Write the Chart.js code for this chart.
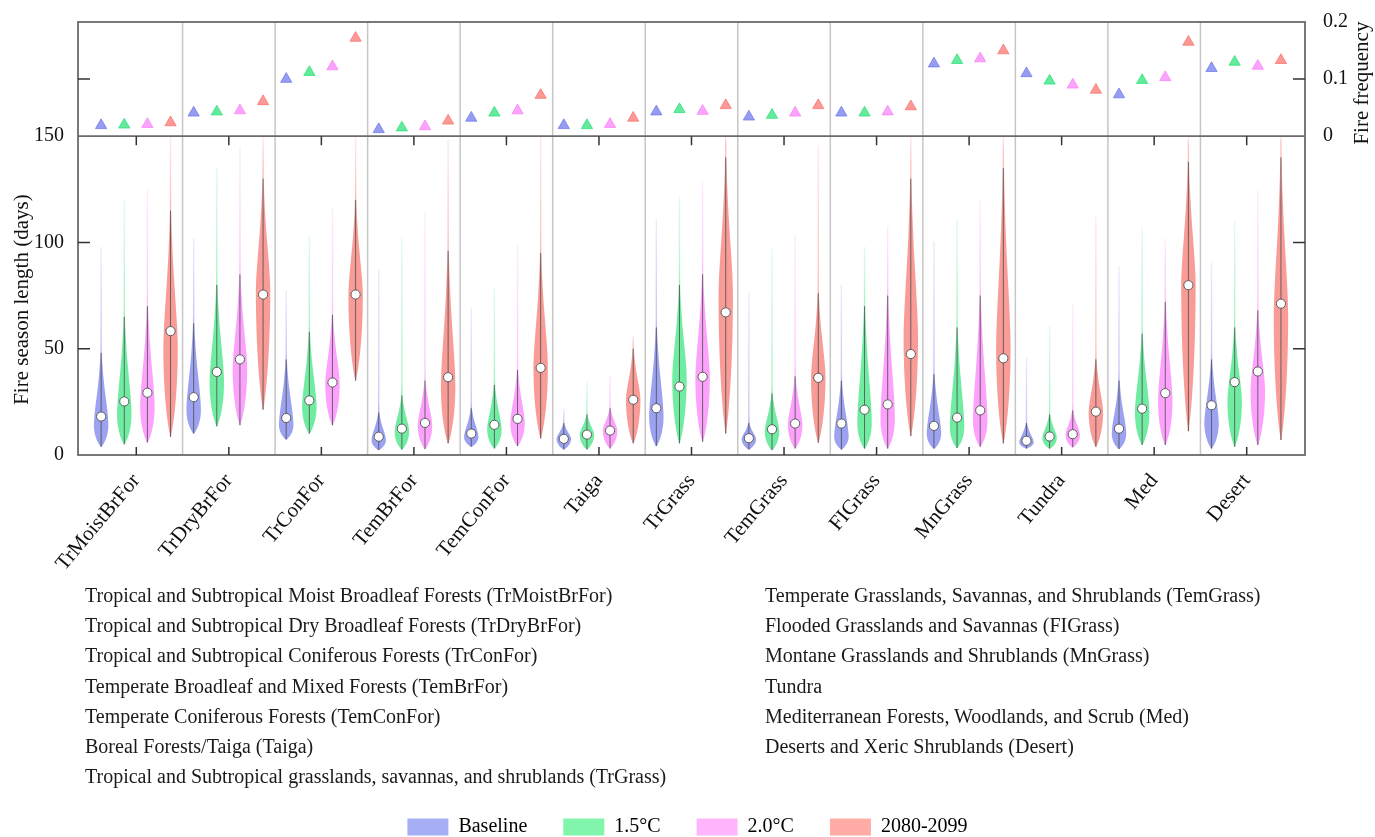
<!DOCTYPE html>
<html>
<head>
<meta charset="utf-8">
<title>Fire season length and fire frequency by biome</title>
<script src="https://cdn.jsdelivr.net/npm/chart.js@4.4.1/dist/chart.umd.min.js"></script>
<style>
  body { margin: 0; background: #fff; }
  #wrap { position: relative; width: 1375px; height: 837px; }
  .nota { position: absolute; font: 20px "Liberation Serif", "Times New Roman", serif; color: #1a1a1a; white-space: nowrap; line-height: 24px; }
</style>
</head>
<body>
<div id="wrap"><canvas id="graficoFuego" width="1375" height="837"></canvas></div>
<script>
const biomas = ['TrMoistBrFor', 'TrDryBrFor', 'TrConFor', 'TemBrFor', 'TemConFor', 'Taiga', 'TrGrass',
                'TemGrass', 'FIGrass', 'MnGrass', 'Tundra', 'Med', 'Desert'];
const escenarios = ['Baseline', '1.5°C', '2.0°C', '2080-2099'];

// Fire frequency (panel de arriba)
const frecBaseline = [0.019, 0.041, 0.100, 0.012, 0.032, 0.019, 0.043, 0.034, 0.041, 0.127, 0.110, 0.073, 0.119];
const frec15 = [0.020, 0.043, 0.112, 0.015, 0.041, 0.019, 0.047, 0.037, 0.041, 0.133, 0.097, 0.098, 0.130];
const frec20 = [0.021, 0.045, 0.122, 0.017, 0.045, 0.021, 0.044, 0.041, 0.043, 0.136, 0.090, 0.103, 0.123];
const frec2080 = [0.024, 0.061, 0.172, 0.027, 0.072, 0.032, 0.054, 0.054, 0.052, 0.150, 0.081, 0.165, 0.133];

// Fire season length (dias) - una fila por escenario
const minimoDias = [
  [3.9, 10.1, 7.3, 2.3, 3.9, 2.6, 4.2, 2.6, 2.6, 3.0, 3.0, 2.8, 3.0],
  [5.0, 13.5, 10.1, 2.6, 3.1, 2.6, 5.5, 2.3, 3.0, 3.3, 3.0, 4.7, 3.9],
  [5.9, 14.0, 14.0, 2.8, 4.2, 3.1, 6.2, 3.1, 3.0, 3.9, 3.6, 4.7, 4.7],
  [8.6, 21.3, 35.0, 5.5, 7.8, 5.5, 10.1, 5.8, 8.9, 5.5, 3.9, 11.2, 7.0]
];
const medianaDias = [
  [18.1, 27.2, 17.4, 8.6, 10.1, 7.6, 22.0, 7.9, 14.8, 13.7, 6.7, 12.4, 23.4],
  [25.2, 39.1, 25.7, 12.4, 14.2, 9.6, 32.2, 12.1, 21.3, 17.6, 8.7, 21.8, 34.3],
  [29.3, 45.0, 34.1, 15.1, 17.0, 11.5, 36.8, 14.8, 23.8, 21.0, 9.8, 29.1, 39.3],
  [58.3, 75.5, 75.5, 36.6, 41.0, 26.0, 67.1, 36.3, 47.5, 45.5, 20.4, 79.9, 71.2]
];
// donde el violin es mas ancho
const modaDias = [
  [14, 21, 14, 7, 8.5, 7.6, 18, 7.5, 8.6, 10, 6, 10, 15],
  [19, 34, 22.6, 11, 12, 9.6, 36, 11, 15, 13, 8, 20, 25],
  [22.6, 40, 33, 14, 15, 11.5, 36, 14, 17, 16, 9.5, 25, 30],
  [50, 77, 75, 32, 41, 26, 75, 36.5, 55, 50, 20, 80, 65]
];
// fin del cuerpo / bigote superior
const bigoteDias = [
  [48, 62, 45, 20, 22, 15, 60, 15, 35, 38, 15, 35, 45],
  [65, 80, 58, 28, 33, 19, 80, 29, 70, 60, 19, 57, 60],
  [70, 85, 66, 35, 40, 22, 85, 37, 75, 75, 21, 72, 68],
  [115, 130, 120, 96, 95, 50, 140, 76, 130, 135, 45, 138, 140]
];
const maximoDias = [
  [98, 102, 77.4, 87, 69, 21.8, 110.6, 76.3, 80, 100.5, 46, 88.8, 90.3],
  [120, 135, 103.6, 102, 78.6, 34.3, 121.5, 97.3, 98, 111, 60.7, 106.7, 109.8],
  [125, 145, 116, 114.5, 99, 37.4, 128.5, 103.6, 107.5, 120, 70.9, 102, 124.6],
  [150, 150, 150, 148.7, 150, 56, 150, 145.6, 150, 150, 112, 150, 150]
];

const notasIzq = [
  'Tropical and Subtropical Moist Broadleaf Forests (TrMoistBrFor)',
  'Tropical and Subtropical Dry Broadleaf Forests (TrDryBrFor)',
  'Tropical and Subtropical Coniferous Forests (TrConFor)',
  'Temperate Broadleaf and Mixed Forests (TemBrFor)',
  'Temperate Coniferous Forests (TemConFor)',
  'Boreal Forests/Taiga (Taiga)',
  'Tropical and Subtropical grasslands, savannas, and shrublands (TrGrass)'
];
const notasDer = [
  'Temperate Grasslands, Savannas, and Shrublands (TemGrass)',
  'Flooded Grasslands and Savannas (FIGrass)',
  'Montane Grasslands and Shrublands (MnGrass)',
  'Tundra',
  'Mediterranean Forests, Woodlands, and Scrub (Med)',
  'Deserts and Xeric Shrublands (Desert)'
];

const frecuencias = [frecBaseline, frec15, frec20, frec2080];
const desplazamiento = [-0.38, -0.13, 0.12, 0.37];
const rgbViolin = ['95,105,232', '25,225,105', '250,105,250', '245,95,88'];
const colorTriangulo = ['rgba(105,115,235,0.7)', 'rgba(35,225,115,0.7)', 'rgba(250,125,250,0.7)', 'rgba(250,110,105,0.7)'];
const colorLeyenda = ['#a6aff5', '#82f5ac', '#ffb5fb', '#ffaba6'];
const fuente = '"Liberation Serif", "Times New Roman", serif';

// texto de los biomas debajo del grafico
const wrap = document.getElementById('wrap');
function ponerNotas(lista, x) {
  lista.forEach((t, k) => {
    const d = document.createElement('div');
    d.className = 'nota';
    d.textContent = t;
    d.style.left = x + 'px';
    d.style.top = (583 + k * 30.2) + 'px';
    wrap.appendChild(d);
  });
}
ponerNotas(notasIzq, 85);
ponerNotas(notasDer, 765);

const datasets = [];
escenarios.forEach((e, s) => {
  datasets.push({
    label: e + ' mediana',
    data: biomas.map((b, i) => ({ x: i + desplazamiento[s], y: medianaDias[s][i] })),
    yAxisID: 'y',
    pointRadius: 4.6,
    pointBackgroundColor: '#ffffff',
    pointBorderColor: '#5a5a5a',
    pointBorderWidth: 1
  });
});
escenarios.forEach((e, s) => {
  datasets.push({
    label: e,
    data: biomas.map((b, i) => ({ x: i + desplazamiento[s], y: frecuencias[s][i] })),
    yAxisID: 'yf',
    pointStyle: 'triangle',
    pointRadius: 6.5,
    pointBackgroundColor: colorTriangulo[s],
    pointBorderColor: colorTriangulo[s],
    pointBorderWidth: 1
  });
});

function anchoViolin(v, lo, moda, top, mitad) {
  if (v <= moda) {
    const u = (moda - v) / Math.max(moda - lo, 0.5);
    return mitad * Math.pow(Math.max(0, 1 - u * u), 0.8);
  }
  const u = (v - moda) / Math.max(top - moda, 1);
  return mitad * Math.exp(-2.3 * Math.pow(u, 1.7));
}

const violines = {
  id: 'violines',
  beforeDatasetsDraw(chart) {
    const { ctx, chartArea: a, scales: { x, y } } = chart;
    const sep = y.getPixelForValue(150);
    ctx.save();
    // separadores de biomas
    ctx.strokeStyle = '#c6c6c6';
    ctx.lineWidth = 1.5;
    for (let i = 0; i < biomas.length - 1; i++) {
      const px = x.getPixelForValue(i + 0.5);
      ctx.beginPath(); ctx.moveTo(px, a.top); ctx.lineTo(px, a.bottom); ctx.stroke();
    }
    ctx.beginPath();
    ctx.rect(a.left, sep, a.right - a.left, a.bottom - sep);
    ctx.clip();
    const mitad = 0.078 * (x.getPixelForValue(1) - x.getPixelForValue(0));
    for (let s = 0; s < escenarios.length; s++) {
      for (let i = 0; i < biomas.length; i++) {
        const cx = x.getPixelForValue(i + desplazamiento[s]);
        const lo = minimoDias[s][i], moda = modaDias[s][i], top = bigoteDias[s][i], hi = maximoDias[s][i];
        const n = 120;
        const der = [], izq = [];
        for (let k = 0; k <= n; k++) {
          const v = lo + (hi - lo) * k / n;
          const w = Math.max(anchoViolin(v, lo, moda, top, mitad), 0.7);
          const py = y.getPixelForValue(v);
          der.push([cx + w, py]);
          izq.push([cx - w, py]);
        }
        // la cola se va desvaneciendo hacia el maximo
        const pyLo = y.getPixelForValue(lo), pyHi = y.getPixelForValue(hi);
        const grad = ctx.createLinearGradient(0, pyLo, 0, pyHi);
        const t = Math.min(Math.max((top - lo) / (hi - lo), 0), 1);
        grad.addColorStop(0, 'rgba(' + rgbViolin[s] + ',0.62)');
        grad.addColorStop(t * 0.85, 'rgba(' + rgbViolin[s] + ',0.62)');
        grad.addColorStop(Math.min(t + 0.05, 1), 'rgba(' + rgbViolin[s] + ',0.35)');
        grad.addColorStop(1, 'rgba(' + rgbViolin[s] + ',0.12)');
        ctx.fillStyle = grad;
        ctx.beginPath();
        der.forEach((p, k) => k ? ctx.lineTo(p[0], p[1]) : ctx.moveTo(p[0], p[1]));
        for (let k = izq.length - 1; k >= 0; k--) ctx.lineTo(izq[k][0], izq[k][1]);
        ctx.closePath();
        ctx.fill();
        // linea gris interior
        ctx.strokeStyle = 'rgba(75,75,75,0.8)';
        ctx.lineWidth = 1;
        ctx.beginPath();
        ctx.moveTo(cx, pyLo);
        ctx.lineTo(cx, y.getPixelForValue(top));
        ctx.stroke();
      }
    }
    ctx.restore();
  },
  afterDatasetsDraw(chart) {
    const { ctx, chartArea: a, scales: { x, y, yf } } = chart;
    const sep = y.getPixelForValue(150);
    ctx.save();
    ctx.strokeStyle = '#6a6a6a';
    ctx.lineWidth = 1.8;
    ctx.strokeRect(a.left, a.top, a.right - a.left, a.bottom - a.top);
    ctx.beginPath(); ctx.moveTo(a.left, sep); ctx.lineTo(a.right, sep); ctx.stroke();
    ctx.lineWidth = 1.5;
    ctx.strokeStyle = '#333';
    ctx.beginPath();
    for (let i = 0; i < biomas.length; i++) {
      const px = x.getPixelForValue(i);
      ctx.moveTo(px, a.bottom); ctx.lineTo(px, a.bottom - 8);
      ctx.moveTo(px, sep); ctx.lineTo(px, sep + 9);
    }
    const marcasY = [y.getPixelForValue(50), y.getPixelForValue(100), yf.getPixelForValue(0.1)];
    marcasY.forEach(py => {
      ctx.moveTo(a.left, py); ctx.lineTo(a.left + 12, py);
      ctx.moveTo(a.right, py); ctx.lineTo(a.right - 12, py);
    });
    ctx.stroke();
    ctx.restore();
  },
  afterDraw(chart) {
    const { ctx, chartArea: a, scales: { y } } = chart;
    const sep = y.getPixelForValue(150);
    ctx.save();
    ctx.fillStyle = '#111';
    ctx.font = '21px ' + fuente;
    ctx.textAlign = 'center';
    ctx.textBaseline = 'middle';
    ctx.translate(22, (sep + a.bottom) / 2 + 4);
    ctx.rotate(-Math.PI / 2);
    ctx.fillText('Fire season length (days)', 0, 0);
    ctx.restore();
    ctx.save();
    ctx.fillStyle = '#111';
    ctx.font = '21px ' + fuente;
    ctx.textAlign = 'center';
    ctx.textBaseline = 'middle';
    ctx.translate(1362, (a.top + sep) / 2 + 4);
    ctx.rotate(-Math.PI / 2);
    ctx.fillText('Fire frequency', 0, 0);
    ctx.restore();
  }
};

new Chart(document.getElementById('graficoFuego'), {
  type: 'scatter',
  data: { datasets: datasets },
  plugins: [violines],
  options: {
    responsive: false,
    animation: false,
    events: [],
    layout: { padding: { top: 19, left: 0, right: 0, bottom: 0 } },
    scales: {
      x: {
        type: 'linear',
        position: 'bottom',
        min: -0.63,
        max: 12.63,
        grid: { display: false },
        border: { display: false },
        afterBuildTicks: s => { s.ticks = biomas.map((b, i) => ({ value: i })); },
        afterFit: s => { s.height = 326; },
        ticks: {
          autoSkip: false,
          minRotation: 50,
          maxRotation: 50,
          padding: 6,
          color: '#111',
          font: { family: fuente, size: 21 },
          callback: v => biomas[Math.round(v)]
        }
      },
      y: {
        type: 'linear',
        position: 'left',
        min: 0,
        max: 150 * 436 / 321,
        grid: { display: false },
        border: { display: false },
        afterBuildTicks: s => { s.ticks = [0, 50, 100, 150].map(v => ({ value: v })); },
        afterFit: s => { s.width = 78; },
        ticks: { padding: 6, color: '#111', font: { family: fuente, size: 20 } }
      },
      yf: {
        type: 'linear',
        position: 'right',
        min: -0.2 * 321 / 115,
        max: 0.2,
        grid: { display: false },
        border: { display: false },
        afterBuildTicks: s => { s.ticks = [0, 0.1, 0.2].map(v => ({ value: v })); },
        afterFit: s => { s.width = 70; },
        ticks: {
          padding: 10,
          color: '#111',
          font: { family: fuente, size: 20 },
          callback: v => v === 0 ? '0' : v.toFixed(1)
        }
      }
    },
    plugins: {
      tooltip: { enabled: false },
      legend: {
        position: 'bottom',
        maxHeight: 56,
        labels: {
          boxWidth: 41,
          boxHeight: 17,
          padding: 36,
          color: '#111',
          font: { family: fuente, size: 20 },
          generateLabels: () => escenarios.map((e, k) => ({
            text: e,
            fillStyle: colorLeyenda[k],
            strokeStyle: colorLeyenda[k],
            lineWidth: 0,
            hidden: false,
            datasetIndex: k
          }))
        }
      }
    }
  }
});
</script>
</body>
</html>
